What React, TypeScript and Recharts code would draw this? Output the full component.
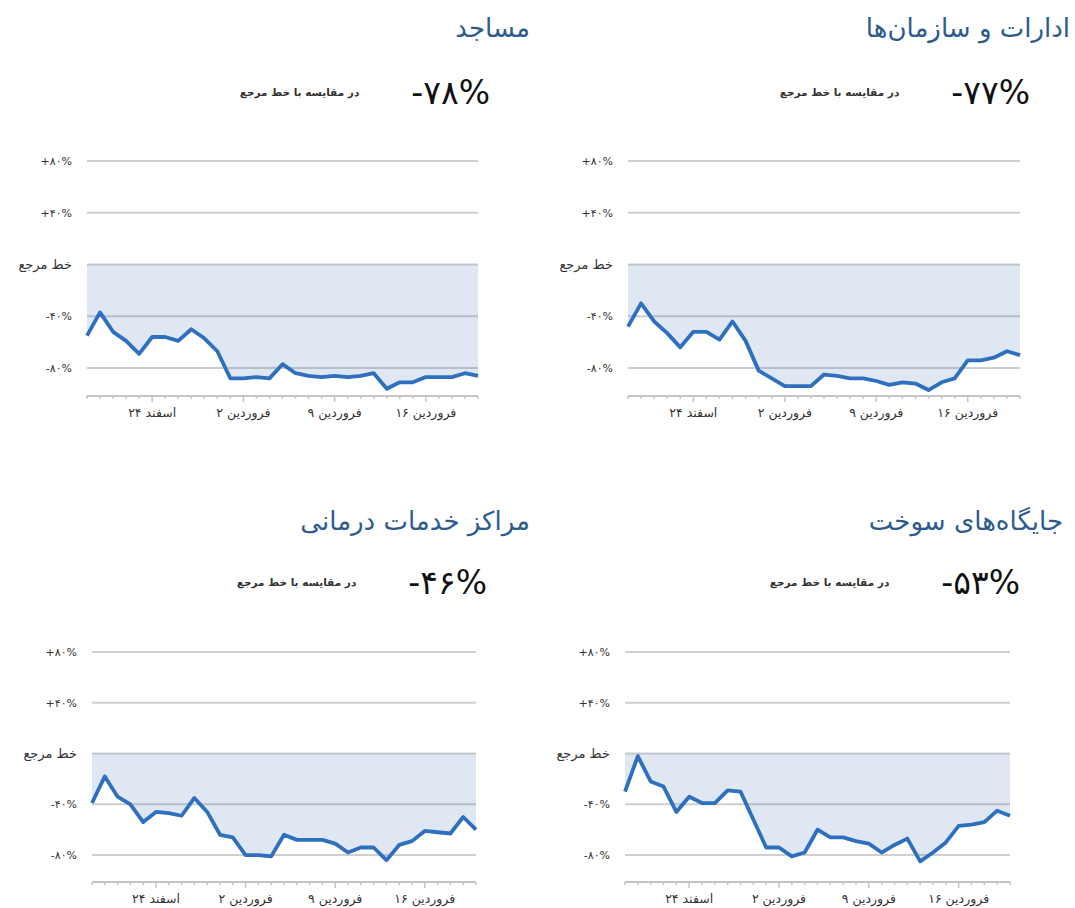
import React from 'react';
import { ComposedChart, Area, Line, XAxis, YAxis, CartesianGrid } from 'recharts';

// 19 Esfand .. 20 Farvardin, one point per day
const days = [
  '۱۹ اسفند', '۲۰ اسفند', '۲۱ اسفند', '۲۲ اسفند', '۲۳ اسفند', '۲۴ اسفند', '۲۵ اسفند', '۲۶ اسفند',
  '۲۷ اسفند', '۲۸ اسفند', '۲۹ اسفند', '۱ فروردین', '۲ فروردین', '۳ فروردین', '۴ فروردین',
  '۵ فروردین', '۶ فروردین', '۷ فروردین', '۸ فروردین', '۹ فروردین', '۱۰ فروردین', '۱۱ فروردین',
  '۱۲ فروردین', '۱۳ فروردین', '۱۴ فروردین', '۱۵ فروردین', '۱۶ فروردین', '۱۷ فروردین',
  '۱۸ فروردین', '۱۹ فروردین', '۲۰ فروردین',
];
const labeledDays = ['۲۴ اسفند', '۲ فروردین', '۹ فروردین', '۱۶ فروردین'];

const yTicks = [80, 40, 0, -40, -80];
const yTickLabels = ['+۸۰%', '+۴۰%', 'خط مرجع', '-۴۰%', '-۸۰%'];

const mosques = [-55, -37, -52, -59, -69, -56, -56, -59, -50, -57, -67, -88, -88, -87, -88, -77, -84, -86, -87, -86, -87, -86, -84, -96, -91, -91, -87, -87, -87, -84, -86];
const offices = [-48, -30, -44, -53, -64, -52, -52, -58, -44, -59, -82, -88, -94, -94, -94, -85, -86, -88, -88, -90, -93, -91, -92, -97, -91, -88, -74, -74, -72, -67, -70];
const health = [-39, -18, -34, -40, -54, -46, -47, -49, -35, -46, -64, -66, -80, -80, -81, -64, -68, -68, -68, -71, -78, -74, -74, -84, -72, -69, -61, -62, -63, -50, -60];
const fuel = [-30, -2, -22, -26, -46, -34, -39, -39, -29, -30, -52, -74, -74, -81, -78, -60, -66, -66, -69, -71, -78, -72, -67, -85, -78, -70, -57, -56, -54, -45, -49];

const titles = ['مساجد', 'ادارات و سازمان‌ها', 'مراکز خدمات درمانی', 'جایگاه‌های سوخت'];
const headlines = ['-۷۸%', '-۷۷%', '-۴۶%', '-۵۳%'];
const subtitle = 'در مقایسه با خط مرجع';

const FONT = '"DejaVu Sans", "Noto Sans", sans-serif';
const LINE = '#2e70bf';
const AXIS_W = 87;

interface PanelLayout {
  plotLeft: number;
  plotRight: number;
  plotTop: number;
  axisY: number;
  yMin: number;
  titleRight: number;
  titleY: number;
  headRight: number;
  headY: number;
}

const layouts: PanelLayout[] = [
  { plotLeft: 87, plotRight: 478, plotTop: 161, axisY: 396, yMin: -101.6, titleRight: 530, titleY: 28, headRight: 490, headY: 92 },
  { plotLeft: 628, plotRight: 1020, plotTop: 161, axisY: 396, yMin: -101.6, titleRight: 1070, titleY: 28, headRight: 1030, headY: 92 },
  { plotLeft: 92, plotRight: 476, plotTop: 652, axisY: 882, yMin: -101.2, titleRight: 530, titleY: 521, headRight: 487, headY: 582 },
  { plotLeft: 625, plotRight: 1010, plotTop: 652, axisY: 882, yMin: -101.2, titleRight: 1063, titleY: 521, headRight: 1020, headY: 582 },
];

const DayTick = (props: any) => {
  const { x, y, payload } = props;
  const major = labeledDays.includes(payload.value);
  return (
    <g>
      <line x1={x} x2={x} y1={y} y2={y + (major ? 6 : 3)} stroke="#c4c4c4" strokeWidth={1.5} />
      {major && (
        <text x={x} y={y + 21} textAnchor="middle" fontSize={12.5} fill="#333" fontFamily={FONT}>
          {payload.value}
        </text>
      )}
    </g>
  );
};

const PctTick = (props: any) => {
  const { x, y, payload } = props;
  const label = yTickLabels[yTicks.indexOf(payload.value)] ?? '';
  const numeric = payload.value !== 0;
  return (
    <text
      x={x}
      y={y}
      dy={4}
      textAnchor="end"
      fontSize={numeric ? 11 : 13}
      fill="#333"
      fontFamily={FONT}
      style={numeric ? { direction: 'ltr', unicodeBidi: 'bidi-override' } : undefined}
    >
      {label}
    </text>
  );
};

const Panel = ({ values, title, headline, lay }: { values: number[]; title: string; headline: string; lay: PanelLayout }) => {
  const data = days.map((day, i) => ({ day, v: values[i] }));
  const width = AXIS_W + (lay.plotRight - lay.plotLeft) + 12;
  const height = 10 + (lay.axisY - lay.plotTop) + 40;
  return (
    <>
      <div
        style={{
          position: 'absolute', right: 1075 - lay.titleRight, top: lay.titleY - 16, height: 32, lineHeight: '32px',
          fontSize: 26, color: '#2d5b8d', direction: 'rtl', whiteSpace: 'nowrap', fontFamily: FONT,
        }}
      >
        {title}
      </div>
      <div
        style={{
          position: 'absolute', right: 1075 - lay.headRight, top: lay.headY - 20, height: 40,
          display: 'flex', flexDirection: 'row-reverse', alignItems: 'center', fontFamily: FONT, whiteSpace: 'nowrap',
        }}
      >
        <span style={{ direction: 'ltr', unicodeBidi: 'bidi-override', fontSize: 33, color: '#111' }}>{headline}</span>
        <span style={{ direction: 'rtl', fontSize: 10.5, color: '#333', fontWeight: 'bold', marginRight: 52 }}>{subtitle}</span>
      </div>
      <div style={{ position: 'absolute', left: lay.plotLeft - AXIS_W, top: lay.plotTop - 10 }}>
        <ComposedChart width={width} height={height} data={data} margin={{ top: 10, right: 12, bottom: 0, left: 0 }}>
          <CartesianGrid horizontal vertical={false} stroke="#cfcfcf" strokeWidth={2} />
          <XAxis
            dataKey="day"
            type="category"
            interval={0}
            height={40}
            tickSize={0}
            tickMargin={0}
            tickLine={false}
            axisLine={{ stroke: '#c4c4c4', strokeWidth: 2 }}
            tick={(p: any) => <DayTick {...p} />}
          />
          <YAxis
            type="number"
            domain={[lay.yMin, 80]}
            ticks={yTicks}
            width={AXIS_W}
            axisLine={false}
            tickLine={false}
            tickSize={0}
            tickMargin={15}
            tick={(p: any) => <PctTick {...p} />}
          />
          <Area
            type="linear"
            dataKey="v"
            stroke="none"
            fill="#3b6fb0"
            fillOpacity={0.16}
            baseValue={0}
            isAnimationActive={false}
          />
          <Line
            type="linear"
            dataKey="v"
            stroke={LINE}
            strokeWidth={3.8}
            strokeLinejoin="round"
            dot={false}
            activeDot={false}
            isAnimationActive={false}
          />
        </ComposedChart>
      </div>
    </>
  );
};

const series = [mosques, offices, health, fuel];

export default function App() {
  return (
    <div style={{ position: 'absolute', left: 0, top: 0, width: 1075, height: 908, background: '#fff', overflow: 'hidden' }}>
      {series.map((values, i) => (
        <Panel key={i} values={values} title={titles[i]} headline={headlines[i]} lay={layouts[i]} />
      ))}
    </div>
  );
}
